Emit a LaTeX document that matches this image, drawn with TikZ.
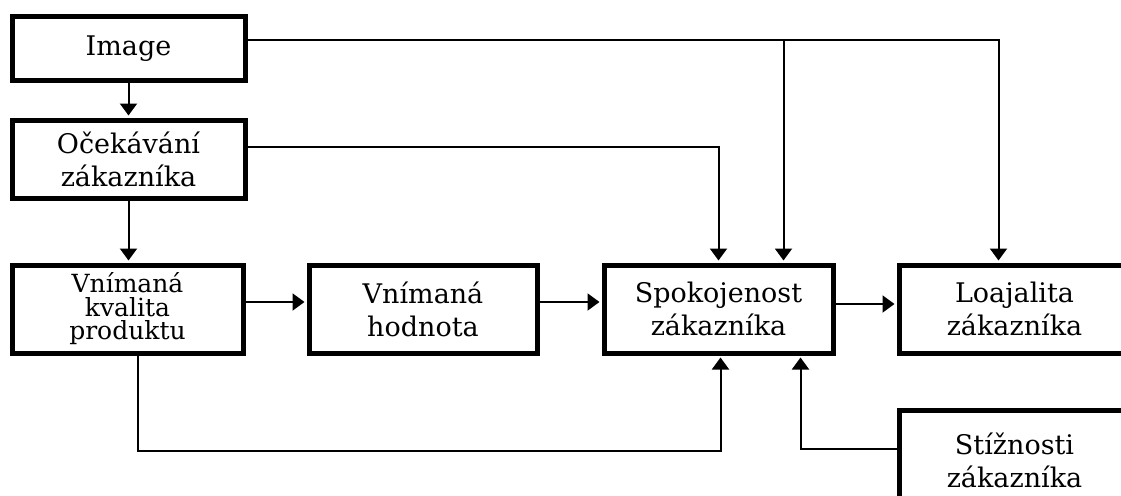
\documentclass[tikz,border=0pt]{standalone}
\usepackage{fontspec}
\setmainfont{DejaVu Serif}
\usetikzlibrary{arrows.meta,positioning}
\tikzset{
blok/.style={
  rectangle,
  draw=black,
  line width=5pt,
  align=center,
  inner sep=0pt,
  font=\fontsize{27}{33}\selectfont
  },
spoj/.style={
  line width=2pt,
  -{Triangle[width=17pt,length=12pt]},
  shorten >=2pt
  }
}

\begin{document}
\begin{tikzpicture}[x=1pt,y=-1pt]
\useasboundingbox (0,0) rectangle (1121,495);

\node[blok, minimum width=233pt, minimum height=63pt] (image) at (128.5,48.5) {Image};
\node[blok, minimum width=233pt, minimum height=78pt] (ocek) at (128.5,159) {Očekávání\\zákazníka};
\node[blok, minimum width=231pt, minimum height=88pt,
  font=\fontsize{25}{23.5}\selectfont] (kval) at (127.5,309) {Vnímaná\\kvalita\\produktu};
\node[blok, minimum width=228pt, minimum height=88pt] (hodn) at (423,309) {Vnímaná\\hodnota};
\node[blok, minimum width=229pt, minimum height=88pt] (spok) at (718.5,309) {Spokojenost\\zákazníka};
\node[blok, minimum width=231pt, minimum height=88pt] (loaj) at (1014.5,309) {Loajalita\\zákazníka};
\node[blok, minimum width=231pt, minimum height=100pt] (stiz) at (1014.5,460) {Stížnosti\\zákazníka};

\draw[spoj] (image) -- (ocek);
\draw[spoj] (ocek.south) -- (ocek.south |- kval.north);
\draw[spoj] ([yshift=7pt]kval.east) -- ([yshift=7pt]hodn.west);
\draw[spoj] ([yshift=7pt]hodn.west -| hodn.east) -- ([yshift=7pt]spok.west);
\draw[spoj] ([yshift=5pt]spok.east) -- ([yshift=5pt]loaj.west);

\begin{scope}
\coordinate(start) at ([yshift=8pt]image.east);
\coordinate(t1) at ([xshift=-16pt]loaj.north);
\coordinate(t2) at ([xshift=65pt]spok.north);

\draw[spoj] (start) -| (t1);
\draw[spoj] (start -| t2) -- (t2);
\end{scope}

\draw[spoj] ([yshift=12pt]ocek.east) -| (spok.north);

\begin{scope}
\coordinate(start) at ([xshift=10pt]kval.south);
\coordinate(t1) at ([xshift=2pt,yshift=-95pt]spok.south);
\coordinate(t2) at ([xshift=82pt]spok.south);

\draw[spoj] (start) |- (t1) -- (t1 |- spok.south);
\draw[spoj] ([yshift=11pt]stiz.west) -| (t2);
\end{scope}
\end{tikzpicture}
\end{document}
